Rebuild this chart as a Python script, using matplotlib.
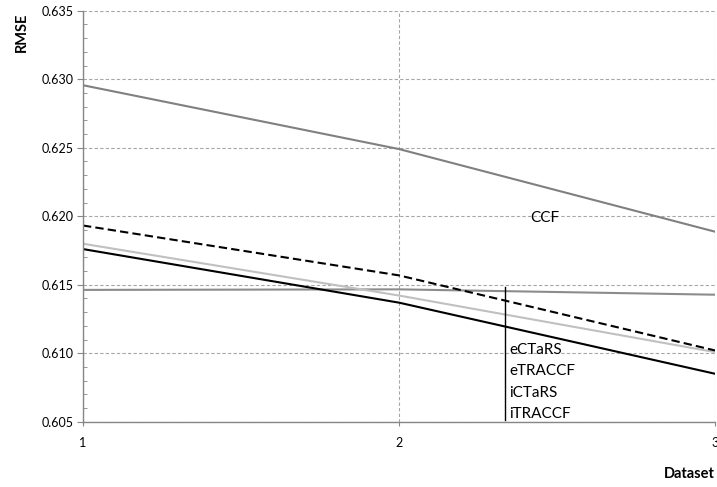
import numpy as np
import matplotlib
matplotlib.use('Agg')
import matplotlib.pyplot as plt
from matplotlib.ticker import MultipleLocator

# values
datasets = [1, 2, 3]
ccf = [0.62956, 0.62490, 0.61887]
flat = [0.61462, 0.61466, 0.61427]
dashed = [0.61932, 0.61568, 0.61020]
light = [0.61799, 0.61421, 0.61008]
black = [0.61760, 0.61369, 0.60850]
labels = ['eCTaRS', 'eTRACCF', 'iCTaRS', 'iTRACCF']

plt.rcParams['font.family'] = ['Lato', 'DejaVu Sans']

fig = plt.figure(figsize=(7.17, 4.87), dpi=100)
ax = fig.add_axes([83/717, 1 - 421.7/487, (715 - 83)/717, 411/487])

ax.plot(datasets, ccf, color='#808080', lw=1.5)
ax.plot(datasets, flat, color='#8c8c8c', lw=1.5)
ax.plot(datasets, light, color='#c0c0c0', lw=1.5)
ax.plot(datasets, black, color='black', lw=1.5)
ax.plot(datasets, dashed, color='black', lw=1.5, dashes=(4, 2))

ax.set_xlim(1, 3)
ax.set_ylim(0.605, 0.635)
ax.set_xticks(datasets)
ax.yaxis.set_major_locator(MultipleLocator(0.005))
ax.yaxis.set_minor_locator(MultipleLocator(0.001))
ax.yaxis.set_major_formatter(plt.FormatStrFormatter('%.3f'))

ax.grid(True, which='major', color='#a6a6a6', lw=0.8, ls=(0, (3, 2)))
ax.set_axisbelow(True)
for s in ['top', 'right']:
    ax.spines[s].set_visible(False)
for s in ['left', 'bottom']:
    ax.spines[s].set_color('#868686')
    ax.spines[s].set_linewidth(1)

ax.tick_params(axis='y', which='major', direction='out', length=4, color='#868686',
               labelsize=9, pad=3)
ax.tick_params(axis='y', which='minor', direction='in', length=3, color='#868686')
ax.tick_params(axis='x', which='major', direction='out', length=3, color='#868686',
               labelsize=9, pad=8)

fig.text(22/717, 1 - 32/487, 'RMSE', rotation=90, fontsize=10.5, fontweight='bold',
         ha='center', va='center')
fig.text(715/717, 1 - 474/487, 'Dataset', fontsize=10.5, fontweight='bold',
         ha='right', va='center')

ax.text(2.46, 0.6199, 'CCF', fontsize=11, ha='center', va='center')
ax.plot([2.335, 2.335], [0.6148, 0.6051], color='black', lw=1)
for i, lab in enumerate(labels):
    ax.text(2.348, 0.61025 - i * 0.00157, lab, fontsize=11, ha='left', va='center',
            clip_on=True)

fig.savefig('out.png', dpi=100)
